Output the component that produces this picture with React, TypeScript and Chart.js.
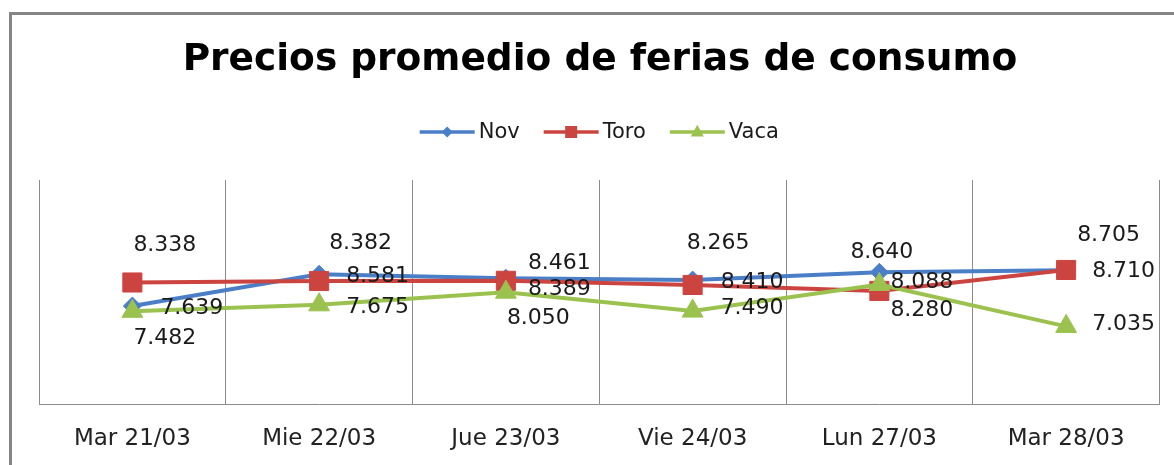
import React, { useEffect, useRef } from 'react';
import { Chart, registerables } from 'chart.js';

Chart.register(...registerables);

// ---- Data ----
const categories = ['Mar 21/03', 'Mie 22/03', 'Jue 23/03', 'Vie 24/03', 'Lun 27/03', 'Mar 28/03'];
const novValues = [7.639, 8.581, 8.461, 8.41, 8.64, 8.705];
const toroValues = [8.338, 8.382, 8.389, 8.265, 8.088, 8.71];
const vacaValues = [7.482, 7.675, 8.05, 7.49, 8.28, 7.035];
const titleText = 'Precios promedio de ferias de consumo';

// ---- Styling ----
const FONT = '"DejaVu Sans", Verdana, sans-serif';
const colors = { Nov: '#4A7FC8', Toro: '#CC4440', Vaca: '#9BC24E' };
const CANVAS_W = 1174;
const CANVAS_H = 476; // slightly taller than the window; the bottom is clipped like the reference

// label placement: [left-edge offset from point x, vertical centre offset from point y]
const labelOffsets: Record<string, number[][]> = {
  Nov: [[28, 2], [27, 2], [22, -15], [28, 2], [-29, -20], [11, -35]],
  Toro: [[1, -37], [10, -38], [22, 9], [-6, -42], [11, -9], [26, 1]],
  Vaca: [[1, 27], [27, 2], [1, 26], [28, -3], [11, 26], [26, -2]],
};

function drawMarker(ctx: CanvasRenderingContext2D, style: string, x: number, y: number, s: number) {
  ctx.beginPath();
  if (style === 'rectRot') {
    ctx.moveTo(x, y - s);
    ctx.lineTo(x + s, y);
    ctx.lineTo(x, y + s);
    ctx.lineTo(x - s, y);
  } else if (style === 'rect') {
    ctx.rect(x - s, y - s, 2 * s, 2 * s);
  } else {
    ctx.moveTo(x, y - s * 1.1);
    ctx.lineTo(x + s, y + s * 0.7);
    ctx.lineTo(x - s, y + s * 0.7);
  }
  ctx.closePath();
  ctx.fill();
}

const framePlugin = {
  id: 'frame',
  beforeDraw(chart: any) {
    const ctx = chart.ctx as CanvasRenderingContext2D;
    ctx.save();
    ctx.fillStyle = '#ffffff';
    ctx.fillRect(0, 0, chart.width, chart.height);
    ctx.strokeStyle = '#858585';
    ctx.lineWidth = 3;
    ctx.beginPath();
    ctx.moveTo(10.5, chart.height + 5);
    ctx.lineTo(10.5, 13.5);
    ctx.lineTo(chart.width + 5, 13.5);
    ctx.stroke();
    ctx.restore();
  },
};

const legendPlugin = {
  id: 'lineLegend',
  afterDraw(chart: any) {
    const ctx = chart.ctx as CanvasRenderingContext2D;
    ctx.save();
    ctx.font = `21px ${FONT}`;
    const lineLen = 55;
    const gap = 4;
    const itemGap = 24;
    const sizes: Record<string, number> = { rectRot: 5.5, rect: 6, triangle: 6.5 };
    const items = chart.data.datasets.map((ds: any) => ({
      label: ds.label,
      color: ds.borderColor,
      style: ds.pointStyle,
      w: ctx.measureText(ds.label).width,
    }));
    const total =
      items.reduce((s: number, it: any) => s + lineLen + gap + it.w, 0) + itemGap * (items.length - 1);
    let x = (chart.chartArea.left + chart.chartArea.right) / 2 - total / 2;
    const y = 132;
    for (const it of items) {
      ctx.strokeStyle = it.color;
      ctx.fillStyle = it.color;
      ctx.lineWidth = 3.5;
      ctx.beginPath();
      ctx.moveTo(x, y);
      ctx.lineTo(x + lineLen, y);
      ctx.stroke();
      drawMarker(ctx, it.style, x + lineLen / 2, y, sizes[it.style]);
      ctx.fillStyle = '#1a1a1a';
      ctx.textAlign = 'left';
      ctx.textBaseline = 'middle';
      ctx.fillText(it.label, x + lineLen + gap, y + 1);
      x += lineLen + gap + it.w + itemGap;
    }
    ctx.restore();
  },
};

const dataLabelPlugin = {
  id: 'valueLabels',
  afterDatasetsDraw(chart: any) {
    const ctx = chart.ctx as CanvasRenderingContext2D;
    ctx.save();
    ctx.font = `22px ${FONT}`;
    ctx.fillStyle = '#1a1a1a';
    ctx.textAlign = 'left';
    ctx.textBaseline = 'middle';
    chart.data.datasets.forEach((ds: any, i: number) => {
      const meta = chart.getDatasetMeta(i);
      const offs = labelOffsets[ds.label];
      meta.data.forEach((pt: any, j: number) => {
        const v = ds.data[j] as number;
        const [dx, dy] = offs[j];
        ctx.fillText(v.toFixed(3), pt.x + dx, pt.y + dy);
      });
    });
    ctx.restore();
  },
};

export default function App() {
  const canvasRef = useRef<HTMLCanvasElement | null>(null);

  useEffect(() => {
    if (!canvasRef.current) return;
    const mk = (label: 'Nov' | 'Toro' | 'Vaca', data: number[], pointStyle: string, radius: number, order: number) => ({
      label,
      data,
      borderColor: colors[label],
      backgroundColor: colors[label],
      pointBackgroundColor: colors[label],
      pointBorderColor: colors[label],
      pointBorderWidth: 1,
      borderWidth: 4,
      pointStyle,
      pointRadius: radius,
      tension: 0,
      order,
    });
    const chart = new Chart(canvasRef.current, {
      type: 'line',
      data: {
        labels: categories,
        datasets: [
          mk('Nov', novValues, 'rectRot', 9, 2),
          mk('Toro', toroValues, 'rect', 13.5, 1),
          mk('Vaca', vacaValues, 'triangle', 12, 0),
        ] as any,
      },
      options: {
        responsive: false,
        animation: false,
        devicePixelRatio: 1,
        layout: { padding: { top: 14, left: 39, right: 13, bottom: 2 } },
        plugins: {
          legend: { display: false },
          tooltip: { enabled: false },
          title: {
            display: true,
            text: titleText,
            color: '#000000',
            font: { family: FONT, size: 37.5, weight: 'bold' },
            padding: { top: 24, bottom: 97 },
          },
        },
        scales: {
          x: {
            type: 'category',
            offset: true,
            grid: { offset: true, color: '#8c8c8c', lineWidth: 1, drawTicks: false },
            border: { display: true, color: '#8c8c8c', width: 1 },
            ticks: {
              font: { family: FONT, size: 23 },
              color: '#222222',
              padding: 21,
              maxRotation: 0,
              autoSkip: false,
            },
          },
          y: { display: false, min: 4.72, max: 11.38 },
        },
      } as any,
      plugins: [framePlugin, legendPlugin, dataLabelPlugin],
    });
    return () => chart.destroy();
  }, []);

  return (
    <div style={{ position: 'fixed', left: 0, top: 0, width: 1174, height: 465, overflow: 'hidden', background: '#fff' }}>
      <canvas ref={canvasRef} width={CANVAS_W} height={CANVAS_H} style={{ display: 'block' }} />
    </div>
  );
}
